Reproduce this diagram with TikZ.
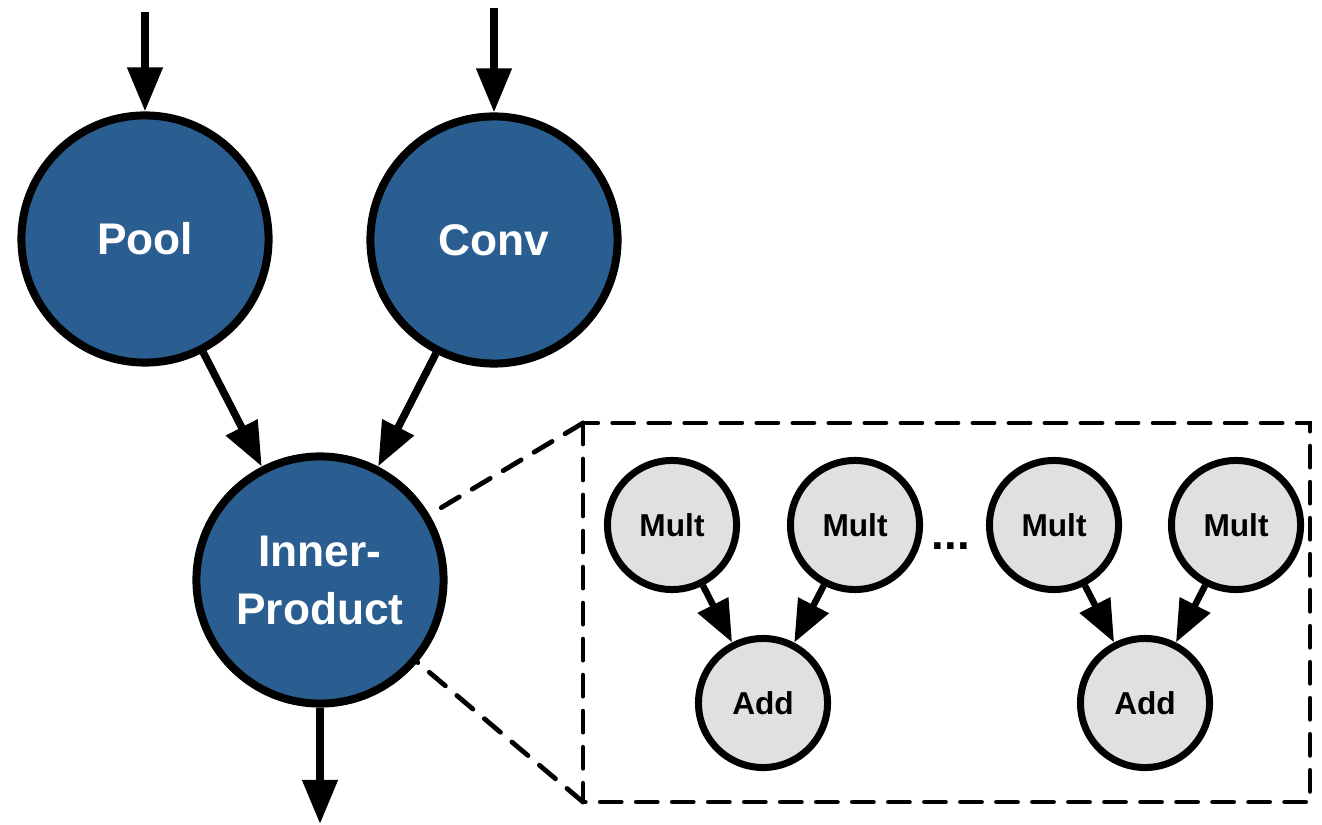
\documentclass[tikz,border=0pt]{standalone}
\usepackage{fontspec}
\setmainfont{Liberation Sans}
\usetikzlibrary{arrows.meta}
\definecolor{layerblue}{RGB}{42,94,145}
\definecolor{opgray}{RGB}{224,224,224}
\begin{document}
\begin{tikzpicture}[x=0.01cm, y=-0.01cm,
  layer/.style={circle, draw=black, line width=0.08cm, fill=layerblue,
    minimum size=2.47cm, inner sep=0pt, text=white, align=center,
    font=\bfseries\fontsize{12.6}{16.5}\selectfont},
  op/.style={circle, draw=black, line width=0.07cm, fill=opgray,
    minimum size=1.29cm, inner sep=0pt, text=black,
    font=\bfseries\fontsize{9}{11}\selectfont},
  bigflow/.style={line width=0.075cm, -{Triangle[length=0.44cm,width=0.34cm]}},
  smallflow/.style={line width=0.065cm, -{Triangle[length=0.42cm,width=0.33cm]}},
  zoomline/.style={line width=0.048cm, dash pattern=on 0.21cm off 0.15cm, line cap=round}
]
\useasboundingbox (0,0) rectangle (1322,825);

% network layers
\node[layer] (pool) at (145,239) {Pool};
\node[layer] (conv) at (494,240) {Conv};
\node[layer] (ip) at (320,580) {Inner-\\Product};

% inputs and output
\coordinate (inpool) at (145,12);
\coordinate (inconv) at (494,8);
\coordinate (out) at (320,824);
\draw[bigflow] (inpool) -- (pool);
\draw[bigflow] (inconv) -- (conv);
\draw[bigflow] (pool) -- (ip);
\draw[bigflow] (conv) -- (ip);
\draw[bigflow] (ip) -- (out);

% expanded view of the inner product
\coordinate (boxnw) at (583,423);
\coordinate (boxse) at (1310,802);
\coordinate (boxsw) at (583,802);
\draw[zoomline] (boxnw) rectangle (boxse);
\draw[zoomline] (boxnw) -- (ip);
\draw[zoomline] (boxsw) -- (ip);

\node[op] (m1) at (672,525) {Mult};
\node[op] (m2) at (855,525) {Mult};
\node[op] (m3) at (1054,525) {Mult};
\node[op] (m4) at (1236,525) {Mult};
\node[op] (a1) at (763,703) {Add};
\node[op] (a2) at (1145,703) {Add};
\node[font=\bfseries\fontsize{13}{15}\selectfont] (dots) at (951,546) {...};

\draw[smallflow] (m1) -- (a1);
\draw[smallflow] (m2) -- (a1);
\draw[smallflow] (m3) -- (a2);
\draw[smallflow] (m4) -- (a2);
\end{tikzpicture}
\end{document}
